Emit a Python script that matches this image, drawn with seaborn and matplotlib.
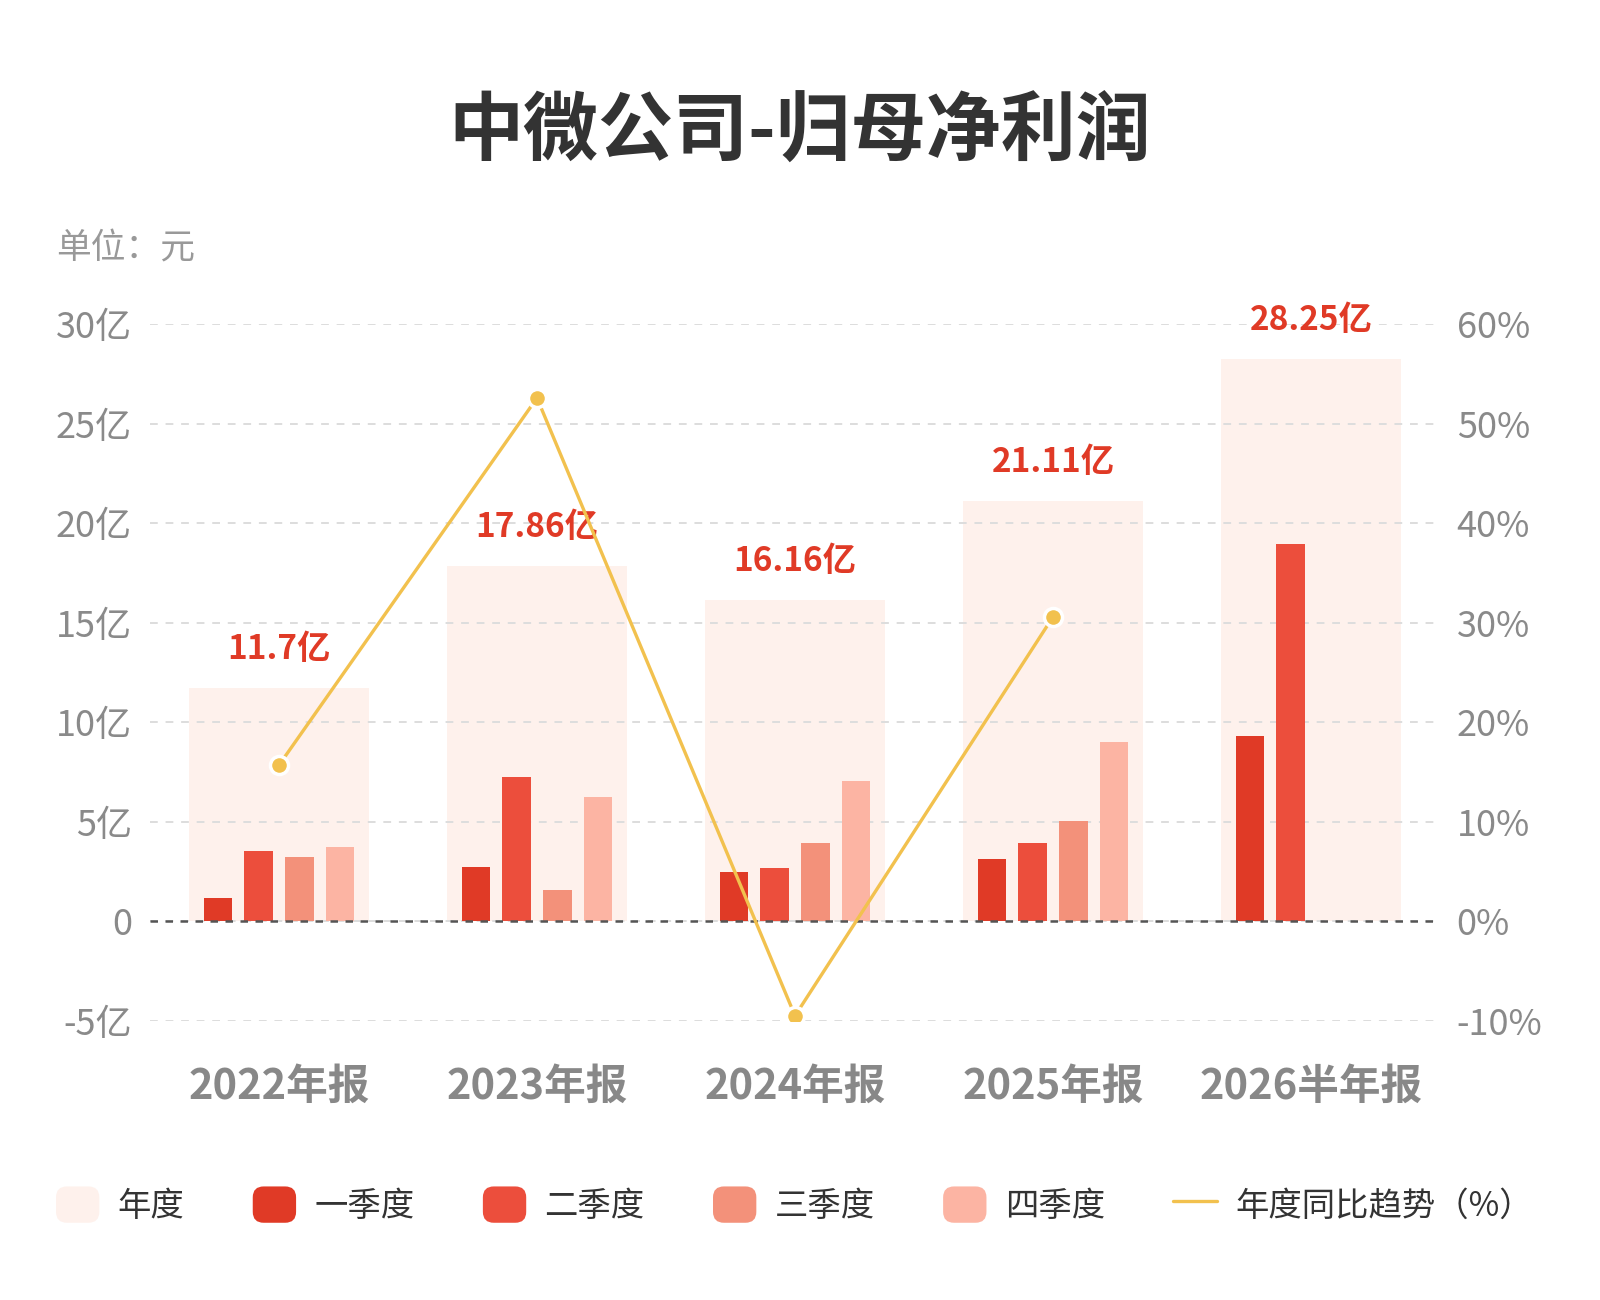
import numpy as np
import pandas as pd
import matplotlib
matplotlib.use("Agg")
import matplotlib.pyplot as plt
from matplotlib.patches import FancyBboxPatch, Patch
from matplotlib.lines import Line2D
from matplotlib.legend_handler import HandlerPatch
import seaborn as sns

# data (亿元)
periods = ['2022年报', '2023年报', '2024年报', '2025年报', '2026半年报']
annual = [11.7, 17.86, 16.16, 21.11, 28.25]
quarters = ['一季度', '二季度', '三季度', '四季度']
q1 = [1.19, 2.75, 2.50, 3.14, 9.30]
q2 = [3.51, 7.27, 2.68, 3.92, 18.95]
q3 = [3.25, 1.58, 3.95, 5.06]
q4 = [3.75, 6.26, 7.03, 8.99]
yoy = [15.7, 52.6, -9.5, 30.6]  # %

left_ticks = [-5, 0, 5, 10, 15, 20, 25, 30]
right_ticks = [-10, 0, 10, 20, 30, 40, 50, 60]

annual_color = '#FEF1EC'
q_colors = ['#E03A26', '#EC4E3C', '#F3917A', '#FCB4A3']
line_color = '#F2C14E'

rows = []
for qname, vals in zip(quarters, [q1, q2, q3, q4]):
    for p, v in zip(periods, vals):
        rows.append({'period': p, 'quarter': qname, 'value': v})
qdf = pd.DataFrame(rows)

sns.set_style('white')
plt.rcParams['font.family'] = ['Noto Sans CJK SC', 'DejaVu Sans']
plt.rcParams['axes.unicode_minus'] = False

fig = plt.figure(figsize=(16, 13), dpi=100)
ax = fig.add_axes([0.09375, 0.2148, 0.80625, 0.5357])

sns.barplot(x=periods, y=annual, color=annual_color, width=0.7, saturation=1,
            linewidth=0, zorder=1, ax=ax)
sns.barplot(data=qdf, x='period', y='value', hue='quarter', order=periods,
            hue_order=quarters, palette=q_colors, width=0.63, gap=0.29,
            saturation=1, linewidth=0, errorbar=None, legend=False, zorder=2, ax=ax)

for i, v in enumerate(annual):
    ax.annotate(f"{v:g}亿", (i, v), xytext=(0, 21), textcoords='offset points',
                ha='center', va='baseline', color='#E03A26', fontsize=24,
                fontweight='bold', annotation_clip=False)

ax.set_xlim(-0.5, len(periods) - 0.5)
ax.set_ylim(left_ticks[0], left_ticks[-1])
ax.set_yticks(left_ticks)
ax.set_yticklabels(['0' if t == 0 else f"{t}亿" for t in left_ticks])
ax.yaxis.grid(True, color='#dddddd', linestyle=(0, (4, 4)), linewidth=1.4)
ax.set_axisbelow('line')
ax.axhline(0, color='#555555', linestyle=(0, (3, 3)), linewidth=1.8, zorder=3)
ax.tick_params(axis='y', length=0, pad=13, labelsize=26, labelcolor='#8a8a8a')
ax.tick_params(axis='x', length=0, pad=32, labelsize=30, labelcolor='#888888')
for lbl in ax.get_xticklabels():
    lbl.set_fontweight('bold')
ax.set_xlabel('')
ax.set_ylabel('')
sns.despine(ax=ax, left=True, bottom=True)

ax2 = ax.twinx()
sns.lineplot(x=np.arange(len(yoy)), y=yoy, ax=ax2, color=line_color, linewidth=2.4,
             marker='o', markersize=13, markerfacecolor=line_color,
             markeredgecolor='white', markeredgewidth=2.5, zorder=4)
ax2.set_ylim(right_ticks[0], right_ticks[-1])
ax2.set_yticks(right_ticks)
ax2.set_yticklabels([f"{t}%" for t in right_ticks])
ax2.tick_params(axis='y', length=0, pad=12, labelsize=26, labelcolor='#8a8a8a')
ax2.grid(False)
ax2.set_ylabel('')
ax2.set_xlim(-0.5, len(periods) - 0.5)
sns.despine(ax=ax2, left=True, bottom=True, right=True)

fig.text(0.5, 0.899, '中微公司-归母净利润', ha='center', va='center',
         fontsize=54, fontweight='bold', color='#333333')
fig.text(56 / 1600, 0.8085, '单位：元', ha='left', va='center',
         fontsize=25, color='#999999')


class RoundHandler(HandlerPatch):
    def create_artists(self, legend, orig_handle, xdescent, ydescent,
                       width, height, fontsize, trans):
        p = FancyBboxPatch((-xdescent, -ydescent), width, height,
                           boxstyle=f"round,pad=0,rounding_size={height * 0.3}",
                           facecolor=orig_handle.get_facecolor(),
                           edgecolor='none', transform=trans)
        return [p]


handles = [Patch(facecolor=annual_color)] + [Patch(facecolor=c) for c in q_colors]
handles.append(Line2D([0], [0], color=line_color, linewidth=2.4))
labels = ['年度'] + quarters + ['年度同比趋势（%）']
fig.legend(handles, labels, loc='center left', bbox_to_anchor=(56 / 1600, 0.073),
           ncol=6, frameon=False, fontsize=24, labelcolor='#333333',
           handlelength=1.3, handleheight=1.3, handletextpad=0.55,
           columnspacing=2.05, borderpad=0, borderaxespad=0,
           handler_map={Patch: RoundHandler()})

fig.savefig('out.png', dpi=100, facecolor='white')
